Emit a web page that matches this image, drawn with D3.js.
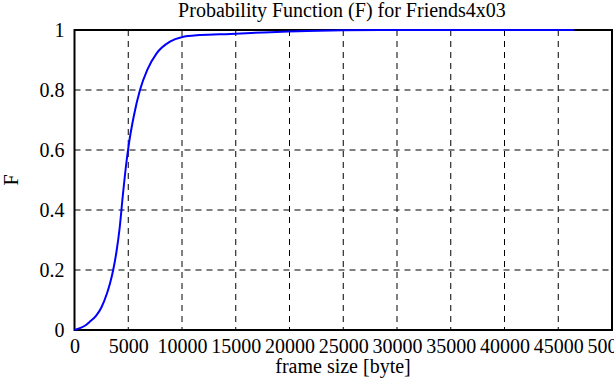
<!DOCTYPE html>
<html>
<head>
<meta charset="utf-8">
<script src="https://cdn.jsdelivr.net/npm/d3@7"></script>
<style>
  body { margin: 0; background: #fff; }
  svg { display: block; }
</style>
</head>
<body>
<div id="chart"></div>
<script>
// frame sizes in bytes and the cumulative probability
const frameSize = [0, 500, 1000, 1440, 2000, 2500, 3000, 3300, 3600, 3900, 4200, 4500, 4800, 5100,
                   5500, 6090, 6770, 7640, 8880, 9960, 11660, 14500, 17600, 21600, 25000, 30000, 46500];
const probF = [0, 0.006, 0.015, 0.028, 0.047, 0.075, 0.12, 0.155, 0.2, 0.26, 0.34, 0.45, 0.55, 0.63,
               0.71, 0.8, 0.867, 0.922, 0.961, 0.976, 0.983, 0.987, 0.992, 0.997, 0.999, 1, 1];

const xTicks = [0, 5000, 10000, 15000, 20000, 25000, 30000, 35000, 40000, 45000, 50000];
const yTicks = [0, 0.2, 0.4, 0.6, 0.8, 1];

const titleText = "Probability Function (F) for Friends4x03";
const xLabel = "frame size [byte]";
const yLabel = "F";

const serif = "'Liberation Serif', 'DejaVu Serif', serif";
const fontSize = "20px";

let margin = {top: 30, right: 2, bottom: 55, left: 74.5};
let width = 614 - margin.left - margin.right;
let height = 385 - margin.top - margin.bottom;

let svg = d3.select("#chart")
    .append("svg")
    .attr("width", 614)
    .attr("height", 385)
    .style("font-family", serif);

let g = svg.append("g")
    .attr("transform", "translate(" + margin.left + "," + margin.top + ")");

const x = d3.scaleLinear()
    .domain([0, 50000])
    .range([0, width]);

const y = d3.scaleLinear()
    .domain([0, 1])
    .range([height, 0]);

// dashed grid
g.selectAll(".vgrid")
    .data(xTicks.slice(1, -1))
    .join("line")
    .attr("x1", d => x(d)).attr("x2", d => x(d))
    .attr("y1", 0).attr("y2", height)
    .attr("stroke", "#000")
    .attr("stroke-width", 1)
    .attr("stroke-dasharray", "6,5");

g.selectAll(".hgrid")
    .data(yTicks.slice(1, -1))
    .join("line")
    .attr("x1", 0).attr("x2", width)
    .attr("y1", d => y(d)).attr("y2", d => y(d))
    .attr("stroke", "#000")
    .attr("stroke-width", 1)
    .attr("stroke-dasharray", "6,5");

// axes with labels only, grid lines act as ticks
g.append("g")
    .attr("transform", `translate(0, ${height})`)
    .call(d3.axisBottom(x).tickValues(xTicks).tickSize(0).tickPadding(9).tickFormat(d3.format("d")))
    .call(ax => ax.select(".domain").remove())
    .selectAll("text")
    .style("font-family", serif)
    .style("font-size", fontSize);

g.append("g")
    .call(d3.axisLeft(y).tickValues(yTicks).tickSize(0).tickPadding(10).tickFormat(d => d === 0 || d === 1 ? d : d.toFixed(1)))
    .call(ax => ax.select(".domain").remove())
    .selectAll("text")
    .style("font-family", serif)
    .style("font-size", fontSize);

// frame
g.append("rect")
    .attr("x", 0).attr("y", 0)
    .attr("width", width).attr("height", height)
    .attr("fill", "none")
    .attr("stroke", "#000")
    .attr("stroke-width", 2);

// the curve, drawn over the frame like gnuplot does
const line = d3.line()
    .x((d, i) => x(frameSize[i]))
    .y(d => y(d))
    .curve(d3.curveMonotoneX);

g.append("path")
    .datum(probF)
    .attr("fill", "none")
    .attr("stroke", "#0000ff")
    .attr("stroke-width", 2)
    .attr("d", line);

// titles
svg.append("text")
    .attr("x", 342)
    .attr("y", 17)
    .attr("text-anchor", "middle")
    .style("font-family", serif)
    .style("font-size", fontSize)
    .text(titleText);

svg.append("text")
    .attr("x", 343)
    .attr("y", 373)
    .attr("text-anchor", "middle")
    .style("font-family", serif)
    .style("font-size", fontSize)
    .text(xLabel);

svg.append("text")
    .attr("transform", "translate(18, 180) rotate(-90)")
    .attr("text-anchor", "middle")
    .style("font-family", serif)
    .style("font-size", fontSize)
    .text(yLabel);
</script>
</body>
</html>
